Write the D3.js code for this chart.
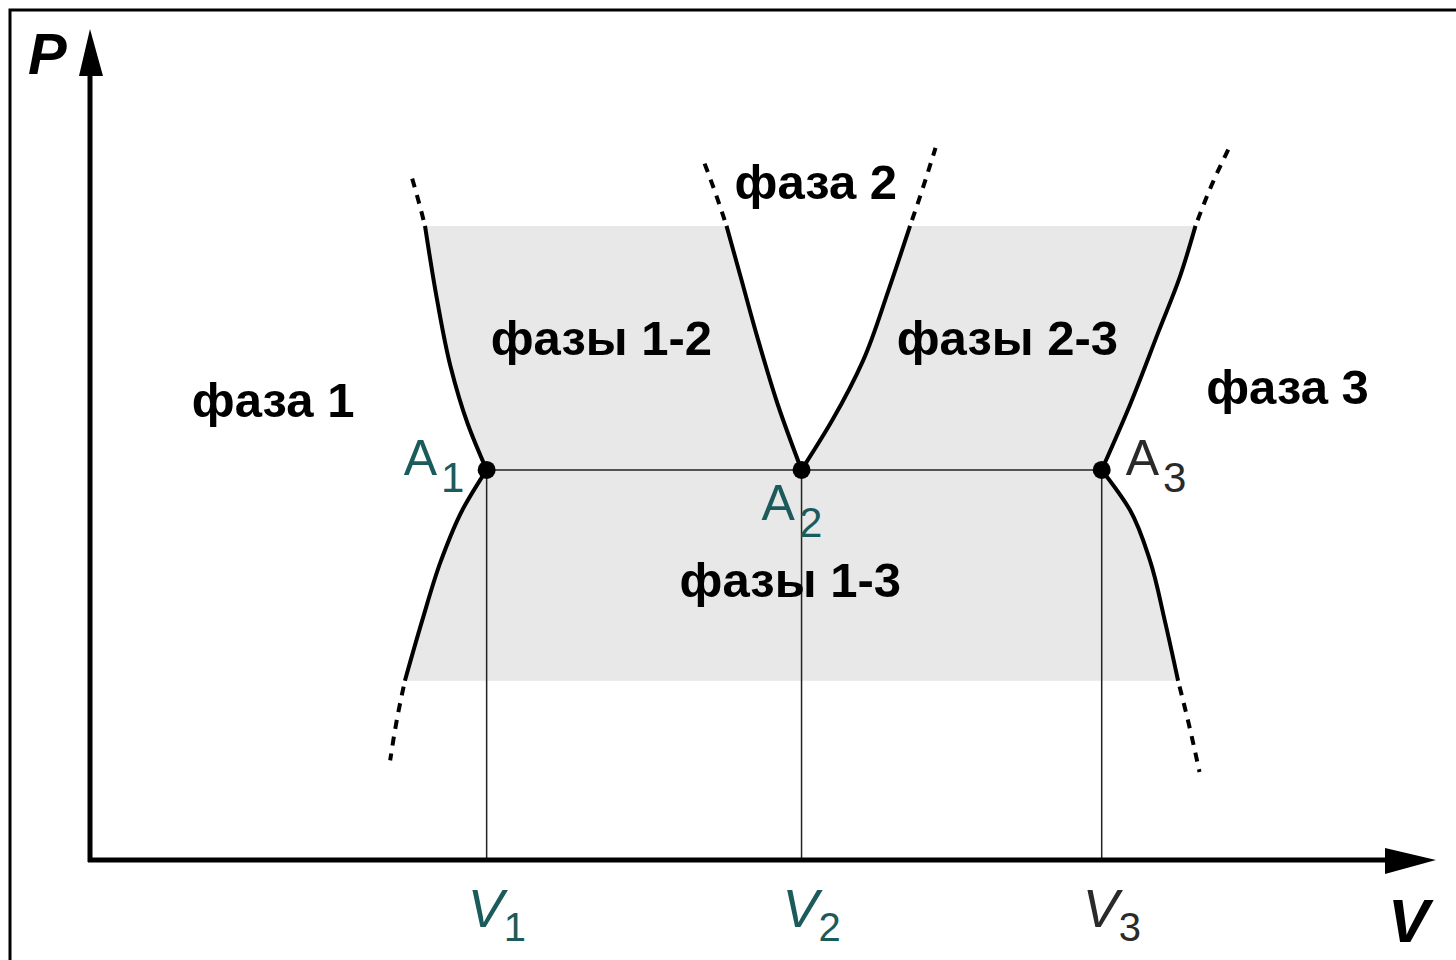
<!DOCTYPE html>
<html>
<head>
<meta charset="utf-8">
<script src="https://cdn.jsdelivr.net/npm/d3@7"></script>
<style>
  body { margin: 0; background: #fff; }
  svg { display: block; }
</style>
</head>
<body>
<div id="chart"></div>
<script>
// точки тройной линии (V, P)
const triplePoints = [
  { name: "A", sub: "1", v: 2.96, p: 4.70, color: "#1b5b5b" },
  { name: "A", sub: "2", v: 5.31, p: 4.70, color: "#1b5b5b" },
  { name: "A", sub: "3", v: 7.55, p: 4.70, color: "#2a2a2a" }
];

const volumeLabels = [
  { sub: "1", v: 2.96, color: "#1b5b5b" },
  { sub: "2", v: 5.31, color: "#1b5b5b" },
  { sub: "3", v: 7.55, color: "#2a2a2a" }
];

// ветви кривых: сплошная часть и пунктирное продолжение
const curve1Up = [[2.96, 4.70], [2.82, 5.25], [2.69, 5.95], [2.59, 6.75], [2.50, 7.64]];
const curve1UpDash = [[2.50, 7.64], [2.45, 7.95], [2.39, 8.29]];
const curve1Down = [[2.96, 4.70], [2.78, 4.22], [2.62, 3.61], [2.48, 2.89], [2.35, 2.16]];
const curve1DownDash = [[2.35, 2.16], [2.29, 1.69], [2.24, 1.20]];
const curve2Left = [[5.31, 4.70], [5.13, 5.50], [4.98, 6.30], [4.86, 7.00], [4.75, 7.64]];
const curve2LeftDash = [[4.75, 7.64], [4.66, 8.07], [4.57, 8.46]];
const curve2Right = [[5.31, 4.70], [5.54, 5.30], [5.77, 6.02], [5.96, 6.87], [6.12, 7.64]];
const curve2RightDash = [[6.12, 7.64], [6.21, 8.07], [6.31, 8.58]];
const curve3Up = [[7.55, 4.70], [7.76, 5.48], [7.98, 6.39], [8.13, 7.01], [8.25, 7.64]];
const curve3UpDash = [[8.25, 7.64], [8.37, 8.13], [8.51, 8.61]];
const curve3Down = [[7.55, 4.70], [7.76, 4.22], [7.91, 3.61], [8.02, 2.89], [8.12, 2.16]];
const curve3DownDash = [[8.12, 2.16], [8.21, 1.57], [8.28, 1.06]];

const regionLabels = [
  { text: "фаза 1", v: 0.76, p: 5.34 },
  { text: "фазы 1-2", v: 2.99, p: 6.08 },
  { text: "фаза 2", v: 4.81, p: 7.96 },
  { text: "фазы 2-3", v: 6.02, p: 6.08 },
  { text: "фаза 3", v: 8.33, p: 5.50 },
  { text: "фазы 1-3", v: 4.40, p: 3.17 }
];

const width = 1456;
const height = 960;

const svg = d3.select("#chart")
  .append("svg")
  .attr("width", width)
  .attr("height", height);

const x = d3.scaleLinear().domain([0, 10]).range([90, 1430]);
const y = d3.scaleLinear().domain([0, 10]).range([860, 30]);

const line = d3.line()
  .x((d) => x(d[0]))
  .y((d) => y(d[1]))
  .curve(d3.curveMonotoneY);

// рамка
svg.append("rect")
  .attr("x", 10).attr("y", 10)
  .attr("width", 1470).attr("height", 980)
  .attr("fill", "none")
  .attr("stroke", "#000")
  .attr("stroke-width", 3);

// серая область двухфазных состояний
const rev = (a) => a.slice().reverse();
const segs = [rev(curve1Up), curve1Down, [[2.35, 2.16], [8.12, 2.16]], rev(curve3Down), curve3Up,
  [[8.25, 7.64], [6.12, 7.64]], rev(curve2Right), curve2Left, [[4.75, 7.64], [2.50, 7.64]]];
const areaPath = segs.map((s, i) => {
  const d = s.length > 2 ? line(s) : `M${x(s[0][0])},${y(s[0][1])}L${x(s[1][0])},${y(s[1][1])}`;
  return i === 0 ? d : "L" + d.slice(1);
}).join("") + "Z";

svg.append("path")
  .attr("d", areaPath)
  .attr("fill", "#e8e8e8")
  .attr("stroke", "none");

// тонкие линии
const A1 = triplePoints[0], A3 = triplePoints[2];
svg.append("line")
  .attr("x1", x(A1.v)).attr("x2", x(A3.v))
  .attr("y1", y(A1.p)).attr("y2", y(A1.p))
  .attr("stroke", "#222").attr("stroke-width", 1.5);

svg.selectAll(".vline")
  .data(triplePoints)
  .enter()
  .append("line")
  .attr("x1", (d) => x(d.v)).attr("x2", (d) => x(d.v))
  .attr("y1", (d) => y(d.p)).attr("y2", y(0))
  .attr("stroke", "#222").attr("stroke-width", 1.5);

// кривые
[curve1Up, curve1Down, curve2Left, curve2Right, curve3Up, curve3Down].forEach((c) => {
  svg.append("path").attr("d", line(c))
    .attr("fill", "none").attr("stroke", "#000").attr("stroke-width", 4);
});
[curve1UpDash, curve1DownDash, curve2LeftDash, curve2RightDash, curve3UpDash, curve3DownDash].forEach((c) => {
  svg.append("path").attr("d", line(c))
    .attr("fill", "none").attr("stroke", "#000").attr("stroke-width", 4)
    .attr("stroke-dasharray", "9,8").attr("stroke-dashoffset", -6);
});

// оси
svg.append("line")
  .attr("x1", x(0)).attr("x2", x(0))
  .attr("y1", y(0) + 2).attr("y2", 70)
  .attr("stroke", "#000").attr("stroke-width", 5);
svg.append("path")
  .attr("d", "M90,29 L103,76 L79,76 Z")
  .attr("fill", "#000");
svg.append("line")
  .attr("x1", x(0) - 2).attr("x2", 1395)
  .attr("y1", y(0)).attr("y2", y(0))
  .attr("stroke", "#000").attr("stroke-width", 5);
svg.append("path")
  .attr("d", "M1436,860 L1385,848 L1385,874 Z")
  .attr("fill", "#000");

svg.append("text")
  .attr("x", 28).attr("y", 74)
  .style("font-family", "Liberation Sans, Arial, sans-serif")
  .style("font-size", "58px")
  .style("font-weight", "bold")
  .style("font-style", "italic")
  .text("P");
svg.append("text")
  .attr("x", 1388).attr("y", 942)
  .style("font-family", "Liberation Sans, Arial, sans-serif")
  .style("font-size", "62px")
  .style("font-weight", "bold")
  .style("font-style", "italic")
  .text("V");

// точки
svg.selectAll(".dot")
  .data(triplePoints)
  .enter()
  .append("circle")
  .attr("cx", (d) => x(d.v))
  .attr("cy", (d) => y(d.p))
  .attr("r", 9)
  .attr("fill", "#000");

// подписи точек
const aOffsets = [[-83, 5], [-40, 50], [24, 5]];
triplePoints.forEach((d, i) => {
  const t = svg.append("text")
    .attr("x", x(d.v) + aOffsets[i][0])
    .attr("y", y(d.p) + aOffsets[i][1])
    .attr("fill", d.color)
    .style("font-family", "Liberation Sans, Arial, sans-serif")
    .style("font-size", "50px");
  t.append("tspan").text(d.name);
  t.append("tspan").attr("dx", 4).attr("dy", 17).style("font-size", "42px").text(d.sub);
});

volumeLabels.forEach((d) => {
  const t = svg.append("text")
    .attr("x", x(d.v) - 19)
    .attr("y", 927)
    .attr("fill", d.color)
    .style("font-family", "Liberation Sans, Arial, sans-serif")
    .style("font-size", "54px")
    .style("font-style", "italic");
  t.append("tspan").text("V");
  t.append("tspan").attr("dy", 14).style("font-size", "40px").style("font-style", "normal").text(d.sub);
});

svg.selectAll(".region")
  .data(regionLabels)
  .enter()
  .append("text")
  .attr("x", (d) => x(d.v))
  .attr("y", (d) => y(d.p))
  .attr("fill", "#000")
  .style("font-family", "Liberation Sans, Arial, sans-serif")
  .style("font-size", "49px")
  .style("font-weight", "bold")
  .text((d) => d.text);
</script>
</body>
</html>
